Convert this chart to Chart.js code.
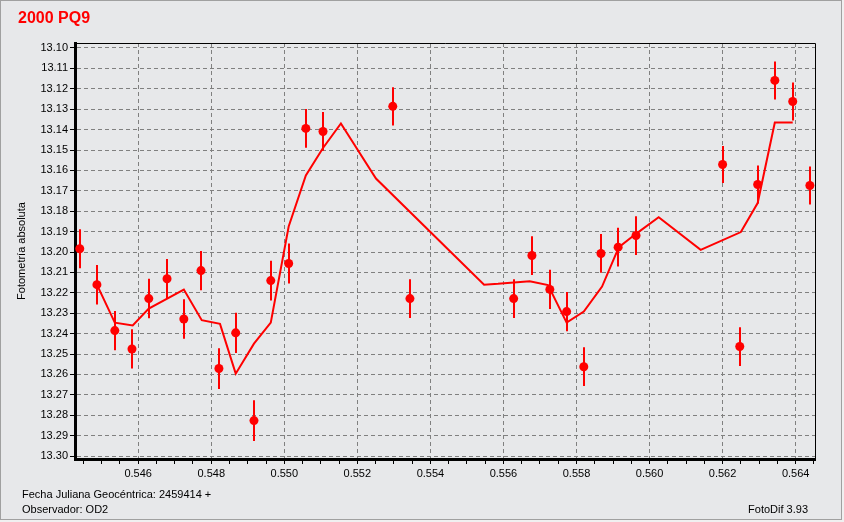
<!DOCTYPE html>
<html>
<head>
<meta charset="utf-8">
<script src="https://cdn.jsdelivr.net/npm/chart.js@4.4.0/dist/chart.umd.min.js"></script>
<style>
  html, body { margin: 0; padding: 0; background: #f0f0f0; }
  #wrap { position: relative; width: 844px; height: 522px; overflow: hidden; }
  #frame { position: absolute; left: 0; top: 0; width: 840px; height: 518px; border: 1px solid #a0a0a0; background: #e7e8ea; }
  canvas { position: absolute; left: 0; top: 0; }
  .txt { position: absolute; font: 11px "Liberation Sans", Arial, sans-serif; color: #000; white-space: nowrap; }
  #title { position: absolute; left: 18px; top: 9px; font: bold 16px "Liberation Sans", Arial, sans-serif; color: #ff0000; }
</style>
</head>
<body>
<div id="wrap">
  <div id="frame"></div>
  <canvas id="chart" width="844" height="522"></canvas>
  <div id="title">2000 PQ9</div>
  <div class="txt" style="left:22px; top:488px;">Fecha Juliana Geocéntrica: 2459414 +</div>
  <div class="txt" style="left:22px; top:503px;">Observador: OD2</div>
  <div class="txt" style="right:36px; top:503px;">FotoDif 3.93</div>
</div>
<script>
// observaciones (fraccion de dia) y magnitud absoluta
const obsJD = [0.5444, 0.54487, 0.54536, 0.54583, 0.54629, 0.54679, 0.54725, 0.54772, 0.54821, 0.54867,
  0.54917, 0.54963, 0.55012, 0.55059, 0.55106, 0.55297, 0.55344, 0.55628, 0.55678, 0.55727,
  0.55773, 0.5582, 0.55867, 0.55914, 0.55963, 0.562, 0.56247, 0.56296, 0.56343, 0.56392, 0.56439];
const obsMag = [13.1984, 13.216, 13.2385, 13.2475, 13.2228, 13.2131, 13.2328, 13.2091, 13.2571, 13.2396,
  13.2826, 13.214, 13.2056, 13.1394, 13.1409, 13.1286, 13.2228, 13.2228, 13.2017, 13.2183,
  13.2292, 13.2562, 13.2007, 13.1976, 13.1919, 13.1571, 13.2463, 13.1669, 13.1159, 13.1262, 13.1674];
const obsErr = [0.0096, 0.0097, 0.0096, 0.0096, 0.0097, 0.0097, 0.0097, 0.0096, 0.01, 0.0099,
  0.01, 0.0097, 0.0098, 0.0095, 0.0095, 0.0094, 0.0095, 0.0095, 0.0095, 0.0096,
  0.0096, 0.0095, 0.0095, 0.0095, 0.0095, 0.0091, 0.0095, 0.0093, 0.0093, 0.0093, 0.0093];

// curva del modelo
const modelJD = [0.54487, 0.54536, 0.54585, 0.54629, 0.54725, 0.54774, 0.54824, 0.54867, 0.54917, 0.54963,
  0.55012, 0.55059, 0.55106, 0.55155, 0.55251, 0.55547, 0.55585, 0.55672, 0.55722, 0.55773,
  0.5582, 0.5587, 0.55916, 0.55962, 0.56025, 0.5614, 0.5625, 0.56296, 0.56343, 0.56392];
const modelMag = [13.216, 13.2346, 13.236, 13.2277, 13.2184, 13.2334, 13.2352, 13.2596, 13.2449, 13.2346,
  13.1875, 13.1625, 13.149, 13.137, 13.164, 13.216, 13.2156, 13.2143, 13.2162, 13.2346,
  13.2292, 13.2169, 13.1976, 13.1912, 13.1829, 13.1989, 13.1902, 13.176, 13.1365, 13.1365];

const xMin = 0.54427, xMax = 0.56453;
const yMin = 13.09755, yMax = 13.30143;

const isMajor = (v) => Math.abs(Math.round(v / 0.002) * 0.002 - v) < 1e-7;

const errorBars = {
  id: 'errorBars',
  beforeDatasetsDraw(chart) {
    const { ctx, chartArea, scales: { x, y } } = chart;
    ctx.save();
    ctx.beginPath();
    ctx.rect(chartArea.left, chartArea.top, chartArea.right - chartArea.left, chartArea.bottom - chartArea.top);
    ctx.clip();
    ctx.strokeStyle = '#ff0000';
    ctx.lineWidth = 2;
    obsJD.forEach((jd, i) => {
      const px = Math.round(x.getPixelForValue(jd));
      ctx.beginPath();
      ctx.moveTo(px, y.getPixelForValue(obsMag[i] - obsErr[i]));
      ctx.lineTo(px, y.getPixelForValue(obsMag[i] + obsErr[i]));
      ctx.stroke();
    });
    ctx.restore();
  }
};

const frameLines = {
  id: 'frameLines',
  afterDraw(chart) {
    const { ctx, chartArea } = chart;
    ctx.save();
    ctx.strokeStyle = '#000';
    ctx.lineWidth = 1;
    ctx.beginPath();
    ctx.moveTo(chartArea.left, Math.round(chartArea.top) + 0.5);
    ctx.lineTo(Math.round(chartArea.right) + 0.5, Math.round(chartArea.top) + 0.5);
    ctx.lineTo(Math.round(chartArea.right) + 0.5, chartArea.bottom);
    ctx.stroke();
    ctx.restore();
  }
};

Chart.defaults.font.family = '"Liberation Sans", Arial, sans-serif';
Chart.defaults.font.size = 11;
Chart.defaults.color = '#000';

new Chart(document.querySelector('#chart'), {
  type: 'scatter',
  data: {
    datasets: [
      {
        label: 'Modelo',
        data: modelJD.map((jd, i) => ({ x: jd, y: modelMag[i] })),
        showLine: true,
        borderColor: '#ff0000',
        borderWidth: 2,
        pointRadius: 0,
        tension: 0,
        order: 2
      },
      {
        label: 'Observaciones',
        data: obsJD.map((jd, i) => ({ x: jd, y: obsMag[i] })),
        backgroundColor: '#ff0000',
        borderWidth: 0,
        pointRadius: 4.5,
        order: 1
      }
    ]
  },
  options: {
    responsive: false,
    animation: false,
    layout: { padding: { left: 0, top: 43, right: 29, bottom: 0 } },
    plugins: { legend: { display: false }, tooltip: { enabled: false } },
    scales: {
      x: {
        type: 'linear',
        min: xMin,
        max: xMax,
        afterFit: (scale) => { scale.height = 63; },
        border: { color: '#000', width: 3, dash: [4, 3] },
        grid: {
          color: (c) => (c.tick && isMajor(c.tick.value) ? '#808080' : 'rgba(0,0,0,0)'),
          tickColor: '#000',
          tickLength: 5,
          lineWidth: 1
        },
        ticks: {
          stepSize: 0.0005,
          includeBounds: false,
          autoSkip: false,
          maxRotation: 0,
          padding: 3,
          callback: (v) => (isMajor(v) ? v.toFixed(3) : '')
        }
      },
      y: {
        type: 'linear',
        reverse: true,
        min: yMin,
        max: yMax,
        afterFit: (scale) => { scale.width = 75; },
        border: { color: '#000', width: 3, dash: [4, 3] },
        grid: { color: '#808080', tickColor: '#000', tickLength: 5, lineWidth: 1 },
        title: { display: true, text: 'Fotometría absoluta', padding: { top: 15, bottom: 0 }, font: { size: 11 } },
        ticks: {
          stepSize: 0.01,
          includeBounds: false,
          padding: 2,
          callback: (v) => v.toFixed(2)
        }
      }
    }
  },
  plugins: [errorBars, frameLines]
});
</script>
</body>
</html>
